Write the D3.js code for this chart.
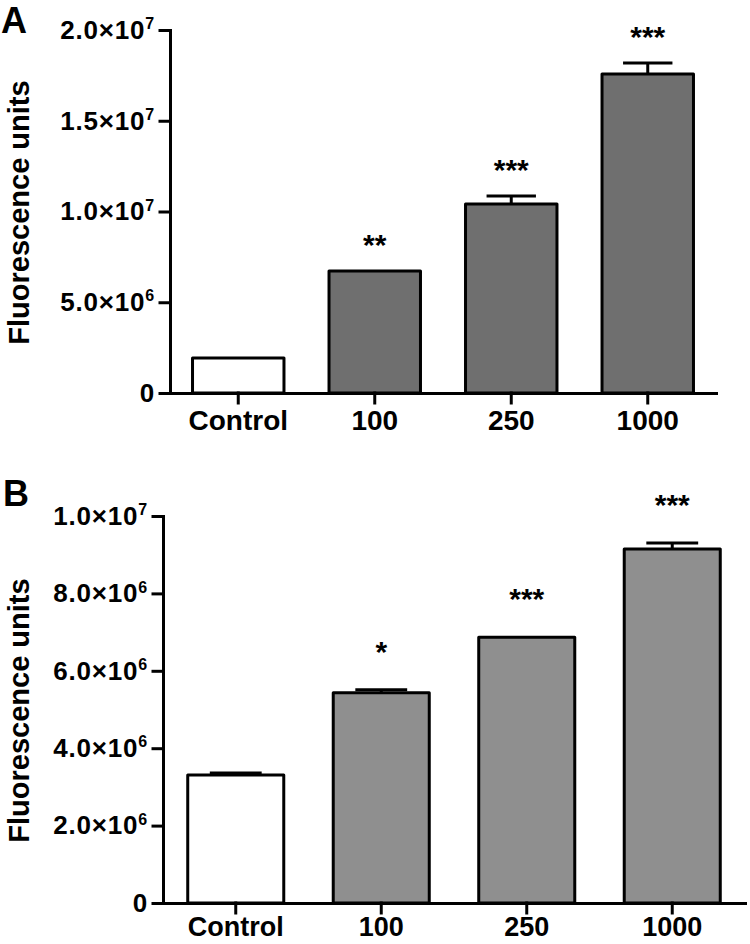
<!DOCTYPE html>
<html>
<head>
<meta charset="utf-8">
<script src="https://cdn.jsdelivr.net/npm/d3@7"></script>
<style>
    body { margin: 0; background: #fff; }
    svg { display: block; font-family: "Liberation Sans", Arial, sans-serif; font-weight: bold; }
</style>
</head>
<body>
<svg id="chart" width="750" height="944"></svg>
<script>
// ---------------------------------- Data ----------------------------------
const categories = ["Control", "100", "250", "1000"];

// Panel A
const meansA = [1.93e6, 6.72e6, 1.041e7, 1.758e7];
const errA = [0, 0, 0.44e6, 0.6e6];
const starsA = ["", "**", "***", "***"];
const ticksA = [0, 5e6, 1e7, 1.5e7, 2e7];

// Panel B
const meansB = [3.31e6, 5.43e6, 6.87e6, 9.15e6];
const errB = [0.05e6, 0.08e6, 0, 0.15e6];
const starsB = ["", "*", "***", "***"];
const ticksB = [0, 2e6, 4e6, 6e6, 8e6, 1e7];

const svg = d3.select("#chart");

// "2.0×10" + superscript exponent
function sciParts(v) {
    if (v === 0) return ["0", ""];
    const e = Math.floor(Math.log10(v) + 1e-9);
    const m = v / Math.pow(10, e);
    return [m.toFixed(1) + "\u00d710", String(e)];
}

function drawPanel(p) {
    const y = d3.scaleLinear()
        .domain([0, p.ticks[p.ticks.length - 1]])
        .range([p.y0, p.y1]);
    const x = d3.scaleBand()
        .domain(categories)
        .range([p.x0, p.x1])
        .paddingInner(p.pad)
        .paddingOuter(p.pad / 2);

    const g = svg.append("g");

    // Bars
    g.selectAll("rect.bar")
        .data(categories)
        .enter()
        .append("rect")
        .attr("class", "bar")
        .attr("x", d => x(d))
        .attr("y", (d, i) => y(p.means[i]))
        .attr("width", x.bandwidth())
        .attr("height", (d, i) => p.y0 - y(p.means[i]))
        .attr("fill", (d, i) => i === 0 ? "#fff" : p.fill)
        .attr("stroke", "#000")
        .attr("stroke-width", 3)
        .attr("stroke-linejoin", "round");

    // Error bars (upper only)
    const capW = x.bandwidth() * 0.54;
    categories.forEach(function (c, i) {
        if (!p.err[i]) return;
        const cx = x(c) + x.bandwidth() / 2;
        g.append("line")
            .attr("x1", cx).attr("x2", cx)
            .attr("y1", y(p.means[i])).attr("y2", y(p.means[i] + p.err[i]))
            .attr("stroke", "#000").attr("stroke-width", 3);
        g.append("line")
            .attr("x1", cx - capW / 2).attr("x2", cx + capW / 2)
            .attr("y1", y(p.means[i] + p.err[i])).attr("y2", y(p.means[i] + p.err[i]))
            .attr("stroke", "#000").attr("stroke-width", 3);
    });

    // Significance stars
    g.selectAll("text.star")
        .data(categories)
        .enter()
        .append("text")
        .attr("class", "star")
        .attr("x", d => x(d) + x.bandwidth() / 2)
        .attr("y", (d, i) => y(p.means[i] + p.err[i]) - p.starGap + 17)
        .attr("text-anchor", "middle")
        .attr("font-size", 30)
        .text((d, i) => p.stars[i]);

    // X axis
    const xAxis = g.append("g")
        .attr("transform", "translate(0," + p.y0 + ")")
        .call(d3.axisBottom(x).tickSize(10).tickSizeOuter(0).tickPadding(p.catPad));
    xAxis.selectAll("text")
        .attr("font-size", p.catSize)
        .attr("font-family", "Liberation Sans, Arial, sans-serif")
        .attr("font-weight", "bold")
        .attr("fill", "#000");

    // Y axis
    const yAxis = g.append("g")
        .attr("transform", "translate(" + p.x0 + ",0)")
        .call(d3.axisLeft(y).tickValues(p.ticks).tickSize(10).tickSizeOuter(0).tickPadding(5));
    yAxis.selectAll(".tick text").each(function (d) {
        const parts = sciParts(d);
        const t = d3.select(this).text("")
            .attr("font-size", 26)
            .attr("letter-spacing", 0.8)
            .attr("font-family", "Liberation Sans, Arial, sans-serif")
            .attr("font-weight", "bold")
            .attr("fill", "#000");
        t.append("tspan").text(parts[0]);
        if (parts[1]) {
            t.append("tspan").attr("font-size", 16).attr("dy", "-0.6em").text(parts[1]);
        }
    });

    [xAxis, yAxis].forEach(function (a) {
        a.selectAll("path, line")
            .attr("stroke", "#000")
            .attr("stroke-width", 3)
            .attr("stroke-linecap", "square");
    });

    // Axis title
    g.append("text")
        .attr("transform", "translate(" + p.titleX + "," + ((p.y0 + p.y1) / 2 + 1) + ") rotate(-90)")
        .attr("text-anchor", "middle")
        .attr("font-size", 29)
        .text("Fluorescence units");

    // Panel letter
    g.append("text")
        .attr("x", p.letterX)
        .attr("y", p.letterY)
        .attr("font-size", 36)
        .text(p.letter);
}

drawPanel({
    letter: "A", letterX: 1, letterY: 33,
    means: meansA, err: errA, stars: starsA, ticks: ticksA,
    x0: 170, x1: 716, y0: 393, y1: 30, pad: 0.33,
    fill: "#6f6f6f", starGap: 33, titleX: 29, catSize: 28, catPad: 7
});

drawPanel({
    letter: "B", letterX: 3, letterY: 506,
    means: meansB, err: errB, stars: starsB, ticks: ticksB,
    x0: 163, x1: 745, y0: 903, y1: 516, pad: 0.34,
    fill: "#8f8f8f", starGap: 45, titleX: 29, catSize: 27, catPad: 4
});
</script>
</body>
</html>
